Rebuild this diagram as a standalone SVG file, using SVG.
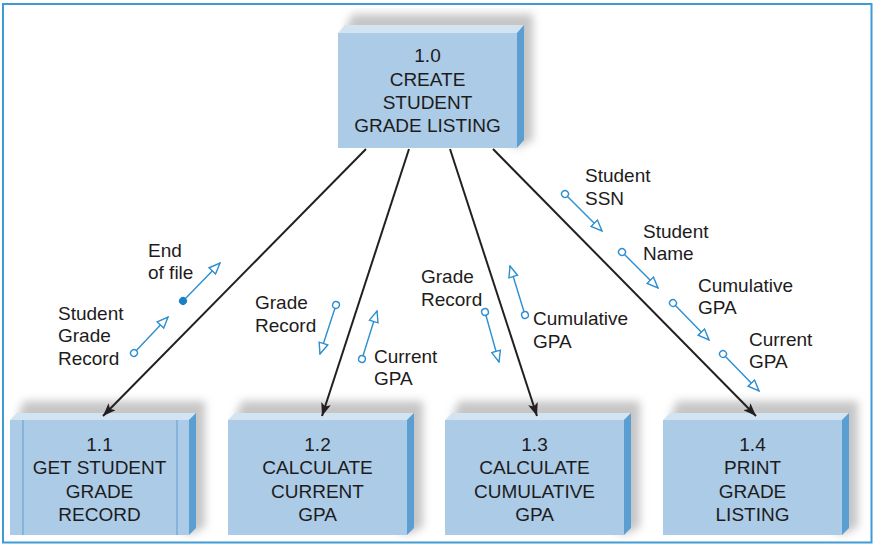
<svg xmlns="http://www.w3.org/2000/svg" width="874" height="547" viewBox="0 0 874 547">
<style>
.t{font-family:"Liberation Sans",Arial,sans-serif;font-size:19px;fill:#1e1b1c}
.c{text-anchor:middle}
.front{fill:#abcbe7}
.top{fill:#d2e3f2}
.side{fill:#5b9fd2}
.sh{fill:#c6c6c6;filter:url(#blur)}
.main{stroke:#231f20;stroke-width:2;fill:none;marker-end:url(#ah)}
.cp{stroke:#2b8fd0;stroke-width:1.4;fill:none;marker-start:url(#oc);marker-end:url(#ot)}
.cf{stroke:#2b8fd0;stroke-width:1.4;fill:none;marker-start:url(#fc);marker-end:url(#ot)}
</style>
<defs>
<filter id="blur" x="-20%" y="-30%" width="140%" height="160%"><feGaussianBlur stdDeviation="4"/></filter>
<marker id="ah" viewBox="0 0 13 10" refX="13" refY="5" markerWidth="13" markerHeight="10" markerUnits="userSpaceOnUse" orient="auto"><path d="M0,0 L13,5 L0,10 L3,5 z" fill="#231f20"/></marker>
<marker id="ot" viewBox="0 0 13 11" refX="12" refY="5.5" markerWidth="13" markerHeight="11" markerUnits="userSpaceOnUse" orient="auto"><path d="M1,1 L12,5.5 L1,10 z" fill="#fff" stroke="#2b8fd0" stroke-width="1.4"/></marker>
<marker id="oc" viewBox="0 0 10 10" refX="5" refY="5" markerWidth="10" markerHeight="10" markerUnits="userSpaceOnUse" orient="auto"><circle cx="5" cy="5" r="3.4" fill="#fff" stroke="#2b8fd0" stroke-width="1.4"/></marker>
<marker id="fc" viewBox="0 0 10 10" refX="5" refY="5" markerWidth="10" markerHeight="10" markerUnits="userSpaceOnUse" orient="auto"><circle cx="5" cy="5" r="4" fill="#1a7fc4"/></marker>
</defs>
<rect x="0" y="0" width="874" height="547" fill="#fff"/>
<rect x="3" y="4" width="868.5" height="538.5" fill="none" stroke="#3f9bd6" stroke-width="2"/>

<g id="node-1-0">
<polygon class="sh" points="352,14 533,14 533,140 517,148 345,30"/>
<polygon class="top" points="338,33 345,25 524,25 517,33"/>
<polygon class="side" points="517,33 524,25 524,140 517,148"/>
<rect class="front" x="338" y="33" width="179" height="115"/>
<text class="t c" x="427.5" y="62">1.0</text>
<text class="t c" x="427.5" y="86">CREATE</text>
<text class="t c" x="427.5" y="109">STUDENT</text>
<text class="t c" x="427.5" y="132">GRADE LISTING</text>
</g>

<g id="node-1-1">
<polygon class="sh" points="24,401 205,401 205,527 189,535 17,417"/>
<polygon class="top" points="10,420 17,413 196,413 189,420"/>
<polygon class="side" points="189,420 196,413 196,528 189,535"/>
<rect class="front" x="10" y="420" width="179" height="115"/>
<line x1="23" y1="420" x2="23" y2="535" stroke="#6aa6d6" stroke-width="1.2"/>
<line x1="177" y1="420" x2="177" y2="535" stroke="#6aa6d6" stroke-width="1.2"/>
<text class="t c" x="99.5" y="451">1.1</text>
<text class="t c" x="99.5" y="474">GET STUDENT</text>
<text class="t c" x="99.5" y="498">GRADE</text>
<text class="t c" x="99.5" y="521">RECORD</text>
</g>

<g id="node-1-2">
<polygon class="sh" points="242,401 423,401 423,527 407,535 235,417"/>
<polygon class="top" points="228,420 235,413 414,413 407,420"/>
<polygon class="side" points="407,420 414,413 414,528 407,535"/>
<rect class="front" x="228" y="420" width="179" height="115"/>
<text class="t c" x="317.5" y="451">1.2</text>
<text class="t c" x="317.5" y="474">CALCULATE</text>
<text class="t c" x="317.5" y="498">CURRENT</text>
<text class="t c" x="317.5" y="521">GPA</text>
</g>

<g id="node-1-3">
<polygon class="sh" points="459,401 640,401 640,527 624,535 452,417"/>
<polygon class="top" points="445,420 452,413 631,413 624,420"/>
<polygon class="side" points="624,420 631,413 631,528 624,535"/>
<rect class="front" x="445" y="420" width="179" height="115"/>
<text class="t c" x="534.5" y="451">1.3</text>
<text class="t c" x="534.5" y="474">CALCULATE</text>
<text class="t c" x="534.5" y="498">CUMULATIVE</text>
<text class="t c" x="534.5" y="521">GPA</text>
</g>

<g id="node-1-4">
<polygon class="sh" points="677,401 858,401 858,527 842,535 670,417"/>
<polygon class="top" points="663,420 670,413 849,413 842,420"/>
<polygon class="side" points="842,420 849,413 849,528 842,535"/>
<rect class="front" x="663" y="420" width="179" height="115"/>
<text class="t c" x="752.5" y="451">1.4</text>
<text class="t c" x="752.5" y="474">PRINT</text>
<text class="t c" x="752.5" y="498">GRADE</text>
<text class="t c" x="752.5" y="521">LISTING</text>
</g>

<g id="connectors">
<line class="main" x1="366" y1="149" x2="103" y2="416"/>
<line class="main" x1="409" y1="149" x2="322" y2="416"/>
<line class="main" x1="450" y1="149" x2="537" y2="416"/>
<line class="main" x1="493" y1="149" x2="756" y2="416"/>

<line class="cp" x1="134" y1="353" x2="168" y2="317"/>
<line class="cf" x1="183" y1="301" x2="220" y2="263"/>
<line class="cp" x1="336" y1="305" x2="320" y2="354"/>
<line class="cp" x1="362" y1="359" x2="377" y2="311"/>
<line class="cp" x1="485" y1="312" x2="499" y2="362"/>
<line class="cp" x1="525" y1="315" x2="510" y2="266"/>
<line class="cp" x1="565" y1="194" x2="602" y2="231"/>
<line class="cp" x1="622" y1="252" x2="658" y2="288"/>
<line class="cp" x1="673" y1="303" x2="709" y2="340"/>
<line class="cp" x1="723" y1="354" x2="759" y2="391"/>
</g>

<g id="labels">
<text class="t" x="58" y="320">Student</text>
<text class="t" x="58" y="342">Grade</text>
<text class="t" x="58" y="365">Record</text>
<text class="t" x="148" y="257">End</text>
<text class="t" x="148" y="279">of file</text>
<text class="t" x="255" y="309">Grade</text>
<text class="t" x="255" y="332">Record</text>
<text class="t" x="374" y="363">Current</text>
<text class="t" x="374" y="385">GPA</text>
<text class="t" x="421" y="283">Grade</text>
<text class="t" x="421" y="306">Record</text>
<text class="t" x="533" y="325">Cumulative</text>
<text class="t" x="533" y="348">GPA</text>
<text class="t" x="585" y="182">Student</text>
<text class="t" x="585" y="205">SSN</text>
<text class="t" x="643" y="238">Student</text>
<text class="t" x="643" y="260">Name</text>
<text class="t" x="698" y="292">Cumulative</text>
<text class="t" x="698" y="314">GPA</text>
<text class="t" x="749" y="346">Current</text>
<text class="t" x="749" y="368">GPA</text>
</g>
</svg>
